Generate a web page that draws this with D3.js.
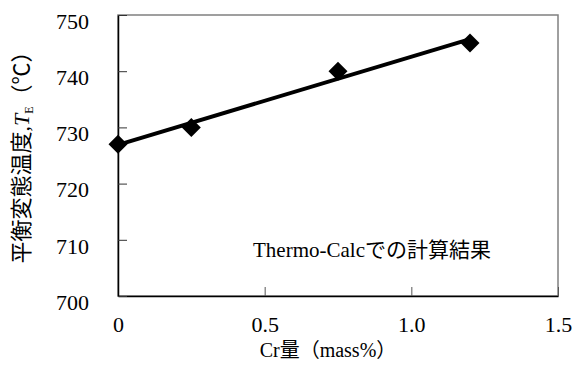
<!DOCTYPE html>
<html>
<head>
<meta charset="utf-8">
<script src="https://cdn.jsdelivr.net/npm/d3@7"></script>
<style>
    body { margin: 0; background: #fff; }
</style>
</head>
<body>
<div class="chart"></div>
<script>
// data
const crContent = [0, 0.25, 0.75, 1.2];
const eqTemp = [727, 730, 740, 745];
// straight fit line drawn through the points
const fitX = [0, 1.2];
const fitY = [726.9, 745.7];
const xTicks = [0, 0.5, 1.0, 1.5];
const yTicks = [700, 710, 720, 730, 740, 750];

const w = 574;
const h = 369;
const margin = { top: 15, right: 16, bottom: 73, left: 118 };
const font = "'Liberation Serif', 'Noto Sans CJK JP', serif";

const svg = d3
    .select(".chart")
    .append("svg")
    .attr("width", w)
    .attr("height", h)
    .attr("font-family", font);

const xScale = d3.scaleLinear().domain([0, 1.5]).range([margin.left, w - margin.right]);
const yScale = d3.scaleLinear().domain([700, 750]).range([h - margin.bottom, margin.top]);

// frame: top and right in gray
svg.append("rect")
    .attr("x", xScale(0))
    .attr("y", yScale(750))
    .attr("width", xScale(1.5) - xScale(0))
    .attr("height", yScale(700) - yScale(750))
    .attr("fill", "none")
    .attr("stroke", "#808080")
    .attr("stroke-width", 1.5);

const xAxis = d3.axisBottom(xScale)
    .tickValues(xTicks)
    .tickSizeInner(-9)
    .tickSizeOuter(0)
    .tickPadding(20)
    .tickFormat((d) => (d === 0 ? "0" : d3.format(".1f")(d)));

const yAxis = d3.axisLeft(yScale)
    .tickValues(yTicks)
    .tickSizeInner(-9)
    .tickSizeOuter(0)
    .tickPadding(29)
    .tickFormat(d3.format("d"));

svg.append("g")
    .attr("transform", `translate(0,${yScale(700)})`)
    .call(xAxis)
    .attr("font-family", font)
    .attr("font-size", 22)
    .call((g) => g.select(".domain").attr("stroke", "#000").attr("stroke-width", 1.5))
    .call((g) => g.selectAll(".tick line").attr("stroke", "#555"));

svg.append("g")
    .attr("transform", `translate(${xScale(0)},0)`)
    .call(yAxis)
    .attr("font-family", font)
    .attr("font-size", 22)
    .call((g) => g.select(".domain").attr("stroke", "#000").attr("stroke-width", 1.5))
    .call((g) => g.selectAll(".tick line").attr("stroke", "#333"))
    .call((g) => g.selectAll(".tick text").attr("dy", "0.6em"));

// fit line
svg.append("line")
    .attr("x1", xScale(fitX[0]))
    .attr("y1", yScale(fitY[0]))
    .attr("x2", xScale(fitX[1]))
    .attr("y2", yScale(fitY[1]))
    .attr("stroke", "#000")
    .attr("stroke-width", 4);

// diamond markers
svg.append("g")
    .selectAll("path")
    .data(crContent)
    .enter()
    .append("path")
    .attr("d", d3.symbol().type(d3.symbolDiamond2).size(230))
    .attr("transform", (d, i) => `translate(${xScale(d)},${yScale(eqTemp[i])})`)
    .attr("fill", "#000");

// annotation
svg.append("text")
    .attr("x", 372)
    .attr("y", 257)
    .attr("text-anchor", "middle")
    .attr("font-size", 21)
    .text("Thermo-Calcでの計算結果");

// x axis title
svg.append("text")
    .attr("x", 328)
    .attr("y", 357)
    .attr("text-anchor", "middle")
    .attr("font-size", 20)
    .text("Cr量（mass%）");

// y axis title
const yTitle = svg.append("text")
    .attr("transform", "translate(29,152) rotate(-90)")
    .attr("text-anchor", "middle")
    .attr("font-size", 22);
yTitle.append("tspan").text("平衡変態温度,");
yTitle.append("tspan").attr("font-style", "italic").text("T");
yTitle.append("tspan").attr("font-size", 12).attr("dy", 4).text("E");
yTitle.append("tspan").attr("dy", -4).text("（℃）");
</script>
</body>
</html>
